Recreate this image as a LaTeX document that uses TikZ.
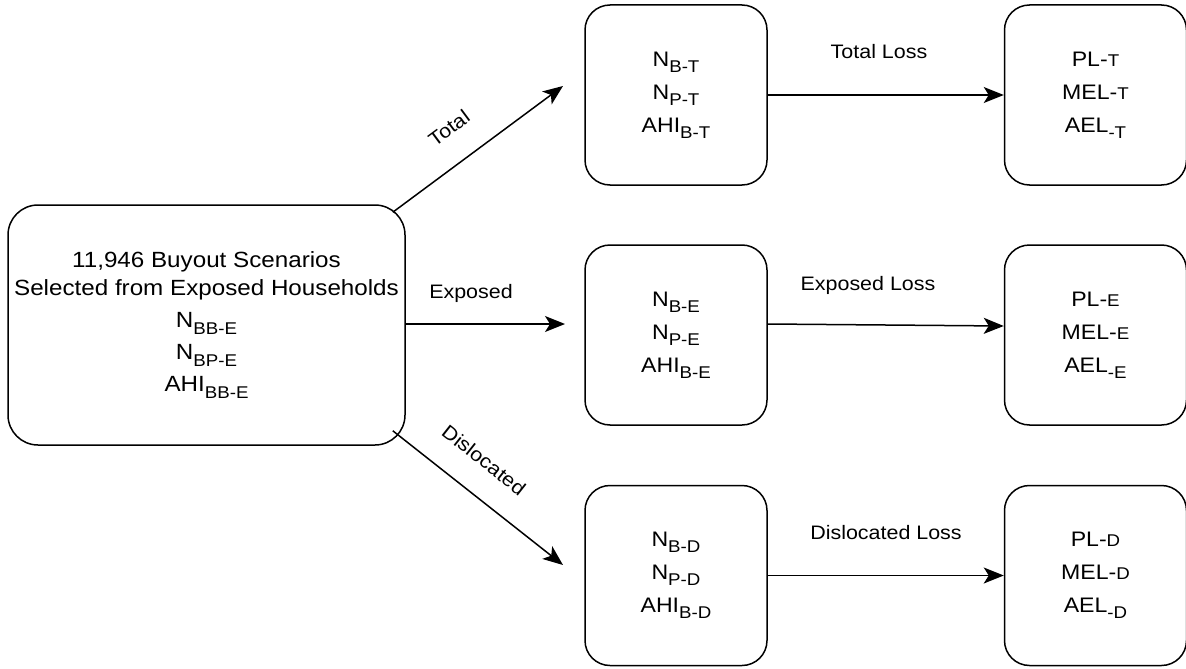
\documentclass[tikz,border=0pt]{standalone}
\usepackage{fontspec}
\setmainfont{Liberation Sans}[FakeStretch=1.1]
\usetikzlibrary{arrows.meta,calc}
\newcommand\mysub[1]{\raisebox{-0.3em}{\fontsize{17}{17}\selectfont #1}}
\newcommand\mysm[1]{{\fontsize{17}{17}\selectfont #1}}
\tikzset{
  box/.style={draw, line width=1.5pt, rounded corners=25pt, minimum width=182pt,
    minimum height=180pt, inner sep=0pt, align=center, font=\fontsize{21}{33}\selectfont},
  conn/.style={line width=1.5pt, -{Stealth[length=20pt,width=16pt,inset=5pt]}},
  lbl/.style={font=\fontsize{19.5}{20}\selectfont, inner sep=0pt},
}
\begin{document}
\begin{tikzpicture}[x=1pt,y=-1pt]
\useasboundingbox (0,0) rectangle (1186,669);
\node[box, minimum width=397pt, minimum height=240pt, rounded corners=30pt,
  font=\fontsize{22}{28}\selectfont] (lb) at (206.5,325)
  {11,946 Buyout Scenarios\\Selected from Exposed Households\\[4pt]
   N\mysub{BB-E}\\[4pt]N\mysub{BP-E}\\[4pt]AHI\mysub{BB-E}};
\node[box] (mT) at (676,95) {N\mysub{B-T}\\N\mysub{P-T}\\AHI\mysub{B-T}};
\node[box] (mE) at (676,335) {N\mysub{B-E}\\N\mysub{P-E}\\AHI\mysub{B-E}};
\node[box] (mD) at (676,575.5) {N\mysub{B-D}\\N\mysub{P-D}\\AHI\mysub{B-D}};
\node[box] (rT) at (1095.5,95) {PL-\mysm{T}\\MEL-\mysm{T}\\AEL\mysub{-T}};
\node[box] (rE) at (1095.5,335) {PL-\mysm{E}\\MEL-\mysm{E}\\AEL\mysub{-E}};
\node[box] (rD) at (1095.5,575.5) {PL-\mysm{D}\\MEL-\mysm{D}\\AEL\mysub{-D}};
\coordinate (tT) at (563,86);
\coordinate (tE) at (565,324);
\coordinate (tD) at (563,565);
\draw[conn] ([shift={(-13,8)}]lb.north east) -- (tT);
\draw[conn] ([shift={(0,-1)}]lb.east) -- (tE);
\draw[conn] ([shift={(-13,-15)}]lb.south east) -- (tD);
\draw[conn] (mT.east) -- (rT.west);
\draw[conn] ([shift={(0,-11)}]mE.east) -- ([shift={(0,-9)}]rE.west);
\draw[conn] (mD.east) -- (rD.west);
\node[lbl, rotate=36.6] (lT) at (449,128) {Total};
\node[lbl] (lE) at (471,293) {Exposed};
\node[lbl, rotate=-38.3] (lD) at (484,460) {Dislocated};
\node[lbl] (lTL) at (879,52) {Total Loss};
\node[lbl] (lEL) at (868,285) {Exposed Loss};
\node[lbl] (lDL) at (886,533) {Dislocated Loss};
\end{tikzpicture}
\end{document}
